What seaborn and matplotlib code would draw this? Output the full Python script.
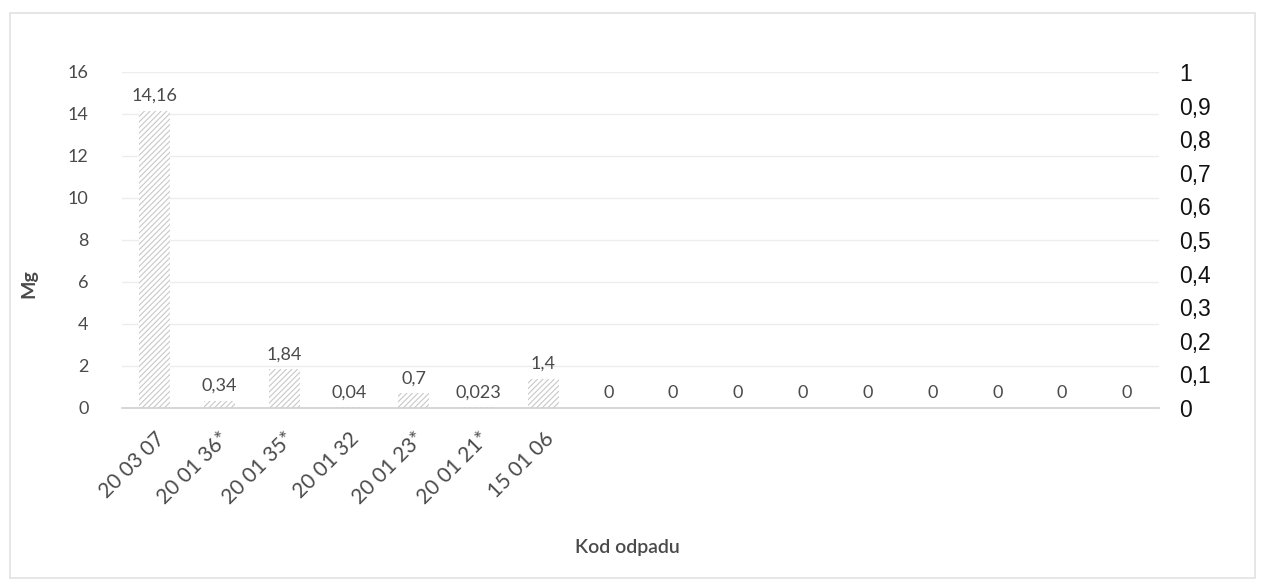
import numpy as np
import pandas as pd
import matplotlib
matplotlib.use("Agg")
import matplotlib.pyplot as plt
from matplotlib.patches import Rectangle
from matplotlib.ticker import FuncFormatter
import seaborn as sns

# ---------------------------------------------------
# Data
# ---------------------------------------------------

codes = [
    "20 03 07", "20 01 36*", "20 01 35*", "20 01 32",
    "20 01 23*", "20 01 21*", "15 01 06",
    "", "", "", "", "", "", "", "", ""
]

mass_mg = [14.16, 0.34, 1.84, 0.04, 0.7, 0.023, 1.4,
           0, 0, 0, 0, 0, 0, 0, 0, 0]

left_ticks = [0, 2, 4, 6, 8, 10, 12, 14, 16]
right_ticks = [0, 0.1, 0.2, 0.3, 0.4, 0.5, 0.6, 0.7, 0.8, 0.9, 1]

df = pd.DataFrame({
    "pos": list(range(len(codes))),
    "Mg": mass_mg
})

# ---------------------------------------------------
# Style
# ---------------------------------------------------

sns.set_style("white")
plt.rcParams["font.family"] = ["Lato", "DejaVu Sans"]
plt.rcParams["hatch.linewidth"] = 0.8

grey_txt = "#4a4a4a"
axis_col = "#d0d0d0"

fig = plt.figure(figsize=(12.63, 5.85), dpi=100)
ax = fig.add_axes([0.0966, 0.3026, 0.8214, 0.5744])

sns.barplot(
    data=df,
    x="pos",
    y="Mg",
    color="white",
    width=0.48,
    edgecolor="#c8c8c8",
    linewidth=0,
    hatch="//////",
    ax=ax
)

ax.set_xlim(-0.5, len(codes) - 0.5)
ax.set_ylim(0, 16)
ax.set_yticks(left_ticks)

ax.grid(axis="y", color="#ededed", linewidth=1)
ax.set_axisbelow(True)

for side in ["top", "right", "left"]:
    ax.spines[side].set_visible(False)
ax.spines["bottom"].set_color(axis_col)
ax.spines["bottom"].set_linewidth(1.2)

# category labels at centers, tick marks at boundaries
ax.set_xticks(range(len(codes)))
ax.set_xticklabels(codes, rotation=45, ha="right",
                   rotation_mode="anchor", fontsize=15, color=grey_txt)
ax.set_xticks(np.arange(-0.5, len(codes), 1), minor=True)
ax.tick_params(axis="x", which="major", length=0, pad=15)
ax.tick_params(axis="x", which="minor", length=8, width=1.2,
               color=axis_col, direction="out")
ax.tick_params(axis="y", length=0, labelsize=13, labelcolor=grey_txt, pad=24)

labels = [f"{v:g}".replace(".", ",") for v in mass_mg]
ax.bar_label(ax.containers[0], labels=labels, padding=5,
             fontsize=13, color=grey_txt)

ax.set_xlabel("Kod odpadu", fontsize=14, color=grey_txt,
              fontweight="semibold")
ax.xaxis.set_label_coords(0.487, -0.39)
ax.set_ylabel("Mg", fontsize=14, color=grey_txt, fontweight="bold")
ax.yaxis.set_label_coords(-0.082, 0.37)

# ---------------------------------------------------
# Secondary axis
# ---------------------------------------------------

ax2 = ax.twinx()
ax2.set_ylim(0, 1)
ax2.set_yticks(right_ticks)
ax2.yaxis.set_major_formatter(
    FuncFormatter(lambda v, p: f"{v:g}".replace(".", ","))
)
ax2.tick_params(axis="y", length=0, pad=14)
for lab in ax2.get_yticklabels():
    lab.set_fontfamily("Liberation Sans")
    lab.set_fontsize(16.5)
    lab.set_color("#111111")
for side in ax2.spines:
    ax2.spines[side].set_visible(False)

# outer frame
fig.patches.append(Rectangle((0.008, 0.012), 0.986, 0.965,
                             transform=fig.transFigure, fill=False,
                             edgecolor="#e2e2e2", linewidth=1.2))

plt.savefig("out.png", dpi=100)
plt.close()
